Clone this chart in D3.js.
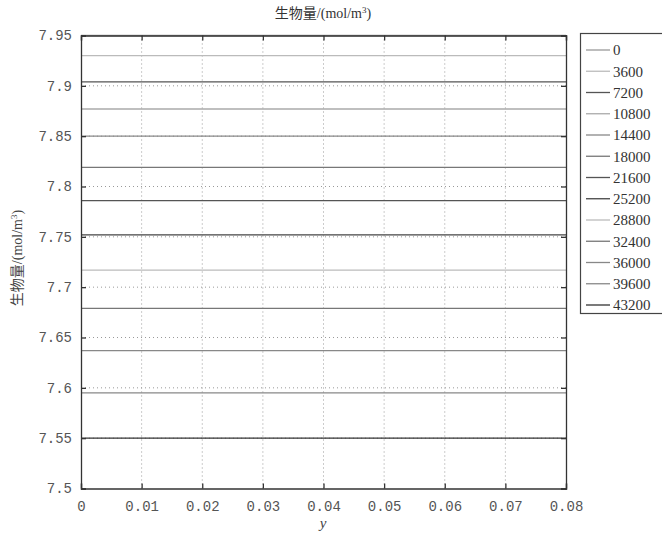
<!DOCTYPE html>
<html><head><meta charset="utf-8">
<script src="https://cdn.jsdelivr.net/npm/d3@7"></script>
<style>body{margin:0;background:#fff}</style>
</head><body>
<svg id="c" width="662" height="537"></svg>
<script>
const times = [0,3600,7200,10800,14400,18000,21600,25200,28800,32400,36000,39600,43200];
const biomass = [7.950,7.930,7.904,7.877,7.850,7.819,7.786,7.752,7.717,7.679,7.637,7.595,7.550];
const lineColors = ["#999","#bbb","#555","#aaa","#888","#777","#555","#444","#bbb","#777","#888","#888","#333"];
const xTicks = [0,0.01,0.02,0.03,0.04,0.05,0.06,0.07,0.08];
const yTicks = [7.5,7.55,7.6,7.65,7.7,7.75,7.8,7.85,7.9,7.95];
const xDomain = [0,0.08], yDomain = [7.5,7.95];

const svg = d3.select("#c");
const L=81,R=566,T=35.5,B=488.5;
const x = d3.scaleLinear().domain(xDomain).range([L,R]);
const y = d3.scaleLinear().domain(yDomain).range([B,T]);
const mono = "'Liberation Mono','DejaVu Sans Mono',monospace";
const serif = "'Liberation Serif','Noto Sans CJK SC',serif";

// grid
const g = svg.append("g");
g.selectAll(".vg").data(xTicks.slice(1,-1)).join("line")
 .attr("x1",d=>x(d)).attr("x2",d=>x(d)).attr("y1",T).attr("y2",B)
 .attr("stroke","#999").attr("stroke-width",1).attr("stroke-dasharray","1,3");
g.selectAll(".hg").data(yTicks.slice(1,-1)).join("line")
 .attr("x1",L).attr("x2",R).attr("y1",d=>y(d)).attr("y2",d=>y(d))
 .attr("stroke","#999").attr("stroke-width",1).attr("stroke-dasharray","1,3");

// series (constant across x)
const line = d3.line().x(d=>x(d[0])).y(d=>y(d[1]));
svg.append("g").selectAll("path").data(biomass).join("path")
 .attr("d",(v)=>line(xDomain.map(xx=>[xx,v])))
 .attr("fill","none").attr("stroke",(d,i)=>lineColors[i]).attr("stroke-width",1.3);

// axes
const ax = svg.append("g").attr("transform",`translate(0,${B})`)
 .call(d3.axisBottom(x).tickValues(xTicks).tickSize(-5).tickPadding(13).tickFormat(d=>d===0?"0":d3.format(".2f")(d)));
const ay = svg.append("g").attr("transform",`translate(${L},0)`)
 .call(d3.axisLeft(y).tickValues(yTicks).tickSize(-5).tickPadding(9).tickFormat(d=>d3.format("")(d)));
const axT = svg.append("g").attr("transform",`translate(0,${T})`)
 .call(d3.axisTop(x).tickValues(xTicks).tickSize(-5).tickFormat(""));
const ayR = svg.append("g").attr("transform",`translate(${R},0)`)
 .call(d3.axisRight(y).tickValues(yTicks).tickSize(-5).tickFormat(""));
[ax,ay,axT,ayR].forEach(a=>{
  a.selectAll("path,line").attr("stroke","#333").attr("stroke-width",1.3);
  a.selectAll("text").attr("font-family",mono).attr("font-size",14).attr("fill","#555");
});

// titles
svg.append("text").attr("x",323).attr("y",18).attr("text-anchor","middle")
 .attr("font-family",serif).attr("font-size",14).attr("fill","#333")
 .html('生物量/(mol/m<tspan dy="-5" font-size="9">3</tspan><tspan dy="5">)</tspan>');
svg.append("text").attr("transform","translate(22,258) rotate(-90)").attr("text-anchor","middle")
 .attr("font-family",serif).attr("font-size",14).attr("fill","#444")
 .html('生物量/(mol/m<tspan dy="-5" font-size="9">3</tspan><tspan dy="5">)</tspan>');
svg.append("text").attr("x",323).attr("y",528).attr("text-anchor","middle")
 .attr("font-family",serif).attr("font-style","italic").attr("font-size",15).attr("fill","#444").text("y");

// legend
const lg = svg.append("g");
lg.append("rect").attr("x",580.5).attr("y",33.5).attr("width",100).attr("height",280)
 .attr("fill","#fff").attr("stroke","#444").attr("stroke-width",1.2);
const ly = d3.scalePoint().domain(times).range([50,305]);
const items = lg.selectAll("g.it").data(times).join("g").attr("transform",d=>`translate(0,${ly(d)})`);
items.append("line").attr("x1",586).attr("x2",610).attr("stroke",(d,i)=>lineColors[i]).attr("stroke-width",1.3);
items.append("text").attr("x",613).attr("dy","0.35em").attr("font-family",serif).attr("font-size",15).attr("fill","#333").text(d=>d);
</script>
</body></html>
